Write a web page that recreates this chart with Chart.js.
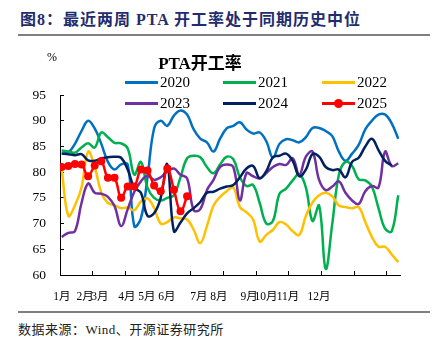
<!DOCTYPE html>
<html>
<head>
<meta charset="utf-8">
<title>PTA开工率</title>
<script src="https://cdn.jsdelivr.net/npm/chart.js@4.4.1/dist/chart.umd.min.js"></script>
<style>
  body { margin:0; width:444px; height:343px; background:#fff; position:relative; overflow:hidden;
         font-family:'Liberation Serif','Noto Sans CJK SC',serif; color:#000; }
  #hdr { position:absolute; left:20px; top:10px; font-size:16px; line-height:20px; font-weight:bold;
         color:#1f2d6e; white-space:nowrap; letter-spacing:1px; }
  .rule { position:absolute; left:18px; width:412px; height:2px; background:#7f7f7f; }
  #wrap { position:absolute; left:0; top:40px; width:444px; height:270px; }
  #unit { position:absolute; left:47px; top:50px; font-size:12px; line-height:14px; }
  #legend { position:absolute; left:125px; top:72px; display:grid;
            grid-template-columns:98px 99px 80px; grid-auto-rows:21px; font-size:15px; }
  .item { display:flex; align-items:center; white-space:nowrap; }
  .swatch { position:relative; width:33px; height:3px; margin-right:2px; }
  .dot { position:absolute; left:12px; top:-3px; width:9px; height:9px; border-radius:50%; }
  #src { position:absolute; left:18px; top:321px; font-size:13px; line-height:18px; color:#222;
         white-space:nowrap; letter-spacing:0.5px; }
</style>
</head>
<body>
<div id="hdr">图8：最近两周 PTA 开工率处于同期历史中位</div>
<div class="rule" style="top:34px"></div>
<div id="wrap"><canvas id="c" width="444" height="270"></canvas></div>
<div id="unit">%</div>
<div id="legend"></div>
<div class="rule" style="top:311px"></div>
<div id="src">数据来源：Wind、开源证券研究所</div>

<script>
// weekly PTA operating rate (%), one value per week of the year
const years = ['2020', '2021', '2022', '2023', '2024', '2025'];
const colors = ['#0070C0', '#00B050', '#FFC000', '#7030A0', '#002060', '#FF0000'];

const y2020 = [83.6, 83.8, 85.5, 88, 90, 88.5, 85.5, 82, 80.5, 81.5, 81.5, 69.5, 71, 79, 88.5, 90, 89, 91, 92, 91.2,
  88.3, 86.5, 85.8, 84, 86.5, 88.5, 89, 89.7, 88.3, 87.5, 87.7, 86, 82.8, 85.5, 86.4, 86.2, 85.8, 86.8, 88.6, 88.6,
  88, 87, 84, 82.2, 83.6, 85.3, 88.3, 90, 91.2, 91.2, 89.5, 86.5];
const y2021 = [84.2, 84, 83.8, 84.8, 85.6, 84.8, 87.7, 86.8, 85.7, 85.6, 84.6, 79.5, 82, 77, 75, 74.5, 75, 75.5, 79, 82.7,
  83.2, 82.9, 81, 79.8, 81.5, 83, 82.5, 79, 77.3, 77.5, 74, 70, 70.5, 75.8, 76.8, 78.4, 79.6, 77, 70.5, 73.5,
  61.2, 70, 79.5, 82, 81.2, 78.6, 78.4, 77.2, 73, 69, 68.5, 75.5];
const y2022 = [80.5, 71.5, 73.5, 77, 84, 81, 76, 74, 73.6, 73, 73.1, 72.6, 74.3, 74.9, 73, 70, 70.3, 71.2, 71, 70.8,
  68.8, 66.2, 69.5, 73.5, 75.2, 76.3, 77, 73.2, 72.2, 70.8, 66.5, 67.8, 68.8, 70.3, 69.8, 68.5, 67.8, 71.5, 74.1, 75.5,
  76, 75.3, 73.5, 73.2, 73, 73.2, 70.3, 67.4, 65.5, 65.5, 64, 62.5];
const y2023 = [67.4, 68.2, 68.5, 74, 77.8, 76, 75.8, 75.2, 73.4, 69.5, 72.8, 76.2, 78.2, 79.3, 78.5, 79, 80.2, 80.7, 79.5, 78.8,
  72.6, 72.8, 76.5, 78.5, 81, 81.5, 81, 74.5, 79.8, 79.2, 78.8, 79.8, 81, 81.6, 81.4, 82.7, 79.5, 83, 84, 78.5,
  76.5, 77.2, 78.2, 76, 74.5, 73.8, 76.3, 77.3, 77, 84, 81.2, 81.7];
const y2024 = [83.6, 83.5, 83.3, 83.5, 82.3, 82.2, 82.7, 82.9, 83, 82.8, 80.5, 77, 76, 71.5, 72, 75, 81.5, 68.5, 70.2, 72,
  73, 74.2, 76, 76.2, 76.8, 77.2, 77.5, 79, 80.7, 81.2, 78.8, 80.2, 82.9, 83.2, 83.6, 82.2, 79.2, 80.5, 83.5, 83,
  81, 80.4, 80.5, 79, 82, 82.8, 85, 86.5, 84.3, 82.2, 81.3];
const y2025 = [81.0, 81.2, 81.6, 81.5, 79.2, 81.3, 82.1, 78.9, 78.9, 75.0, 77.2, 77.2, 80.5, 80.3, 77.4, 76.3, 80.7, 76.6,
  72.4, 75.3];
const series = [y2020, y2021, y2022, y2023, y2024, y2025];

// x axis runs in weeks; marks every ~5 weeks, month labels where the source put them
const xMin = -0.26, xMax = 51.26, markStep = 4.955;
const monthLabels = ['1月', '2月', '3月', '4月', '5月', '6月', '7月', '8月', '9月', '10月', '11月', '12月'];
const monthPos = [0.04, 3.53, 5.8, 9.89, 12.92, 15.95, 20.8, 23.83, 28.38, 30.95, 34.29, 38.98];
const yTicks = [60, 65, 70, 75, 80, 85, 90, 95];

const FONT = "'Liberation Serif','Noto Sans CJK SC',serif";
Chart.defaults.font.family = FONT;
Chart.defaults.color = '#000';

const htmlLegend = {
  id: 'htmlLegend',
  afterUpdate(chart) {
    const box = document.getElementById('legend');
    box.innerHTML = '';
    chart.data.datasets.forEach(function (ds) {
      const item = document.createElement('div');
      item.className = 'item';
      const sw = document.createElement('span');
      sw.className = 'swatch';
      sw.style.background = ds.borderColor;
      if (ds.pointRadius > 0) {
        const dot = document.createElement('span');
        dot.className = 'dot';
        dot.style.background = ds.backgroundColor;
        sw.appendChild(dot);
      }
      const txt = document.createElement('span');
      txt.textContent = ds.label;
      item.appendChild(sw);
      item.appendChild(txt);
      box.appendChild(item);
    });
  }
};

const datasets = years.map(function (yr, k) {
  const isLast = k === years.length - 1;
  return {
    label: yr,
    data: series[k].map(function (v, i) { return {x: i, y: v}; }),
    borderColor: colors[k],
    backgroundColor: colors[k],
    borderWidth: 2.5,
    pointRadius: isLast ? 4 : 0,
    pointBorderWidth: 0,
    tension: 0.4,
    order: years.length - 1 - k
  };
});

const ctx = document.getElementById('c');
new Chart(ctx, {
  type: 'line',
  data: {datasets: datasets},
  plugins: [htmlLegend],
  options: {
    responsive: false,
    animation: false,
    devicePixelRatio: 1,
    layout: {padding: {top: 0, right: 44, left: 0, bottom: 0}},
    plugins: {
      legend: {display: false},
      tooltip: {enabled: false},
      title: {
        display: true,
        text: 'PTA开工率',
        color: '#000',
        font: {family: FONT, size: 17, weight: 'bold'},
        padding: {top: 14, bottom: 20.6}
      }
    },
    scales: {
      x: {
        type: 'linear',
        min: xMin,
        max: xMax,
        weight: 0,
        afterBuildTicks: function (s) {
          const t = [];
          for (let k = 0; k <= 10; k++) t.push({value: xMin + k * markStep});
          s.ticks = t;
        },
        afterFit: function (s) { s.height = 0; },
        ticks: {display: false},
        grid: {drawOnChartArea: false, color: '#000', tickLength: -4, lineWidth: 1},
        border: {color: '#000', width: 1}
      },
      xLabels: {
        type: 'linear',
        position: 'bottom',
        min: xMin,
        max: xMax,
        weight: 1,
        afterBuildTicks: function (s) {
          s.ticks = monthPos.map(function (v) { return {value: v}; });
        },
        afterFit: function (s) { s.height = 35; },
        ticks: {
          autoSkip: false,
          maxRotation: 0,
          padding: 15,
          font: {family: FONT, size: 11.5},
          callback: function (v, i) { return monthLabels[i]; }
        },
        grid: {display: false, drawTicks: false},
        border: {display: false}
      },
      y: {
        min: 60,
        max: 95,
        afterBuildTicks: function (s) {
          s.ticks = yTicks.map(function (v) { return {value: v}; });
        },
        afterFit: function (s) { s.width = 60; },
        ticks: {padding: 18, font: {family: FONT, size: 13.5}},
        grid: {drawOnChartArea: false, color: '#000', tickLength: -4, lineWidth: 1},
        border: {color: '#000', width: 1}
      }
    }
  }
});
</script>
</body>
</html>
